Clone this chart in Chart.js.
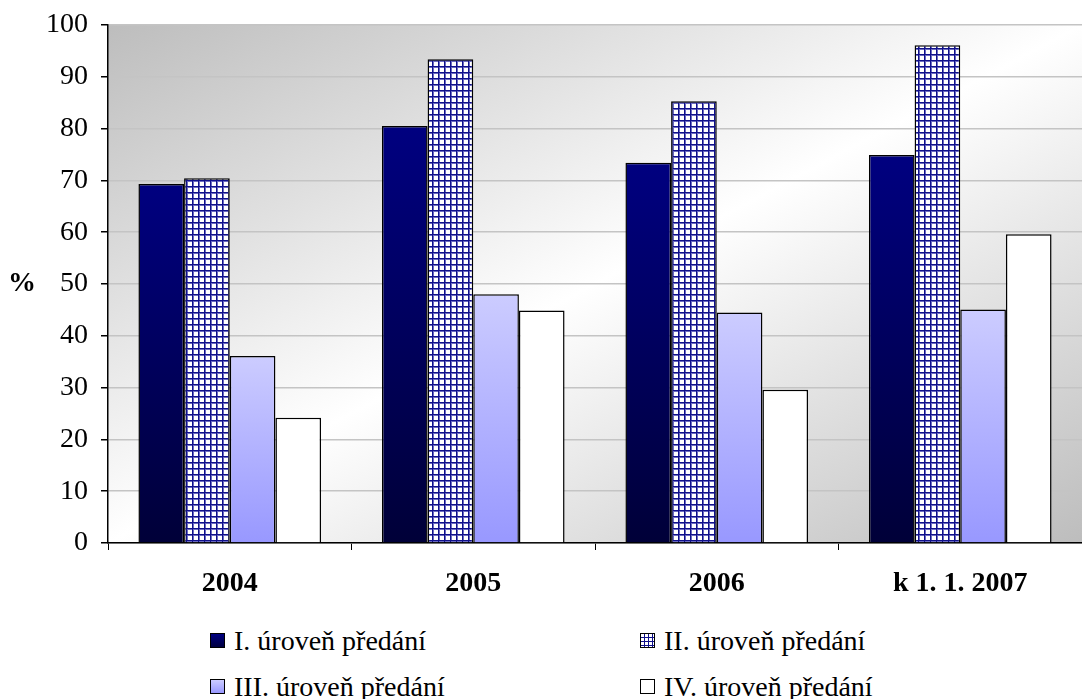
<!DOCTYPE html>
<html>
<head>
<meta charset="utf-8">
<script src="https://cdn.jsdelivr.net/npm/chart.js@4.4.1/dist/chart.umd.min.js"></script>
<style>
    body { margin: 0; background: #fff; width: 1082px; height: 699px; overflow: hidden;
           font-family: "Liberation Serif", "Times New Roman", serif; }
    #wrap { position: absolute; left: 0; top: 0; width: 1082px; height: 611px; }
    #legend { position: absolute; left: 210px; top: 625px; display: grid;
              grid-template-columns: 430px 300px; row-gap: 15px;
              font-size: 28px; line-height: 31px; color: #000; }
    .item { display: flex; align-items: center; white-space: nowrap; }
    .sw { width: 13px; height: 13px; border: 1px solid #000; margin-right: 9px; box-sizing: content-box; }
</style>
</head>
<body>
<div id="wrap"><canvas id="levelsChart"></canvas></div>
<div id="legend"></div>
<script>
// Data
const years = ['2004', '2005', '2006', 'k 1. 1. 2007'];
const levelNames = ['I. úroveň předání', 'II. úroveň předání', 'III. úroveň předání', 'IV. úroveň předání'];
const level1 = [69.3, 80.5, 73.4, 74.9];
const level2 = [70.4, 93.4, 85.3, 96.1];
const level3 = [36.1, 48.0, 44.5, 45.1];
const level4 = [24.2, 44.9, 29.6, 59.6];
const yMin = 0;
const yMax = 100;
const yStep = 10;
const axisUnit = '%';

const FONT = '"Liberation Serif", "Times New Roman", serif';

// Checkered fill used by level II
function makeGridPattern() {
    const c = document.createElement('canvas');
    c.width = 6;
    c.height = 6;
    const p = c.getContext('2d');
    p.fillStyle = '#ffffff';
    p.fillRect(0, 0, 6, 6);
    p.fillStyle = '#6a6ac0';
    p.fillRect(0, 0, 6, 2);
    p.fillRect(0, 0, 2, 6);
    p.fillStyle = '#10108a';
    p.fillRect(0, 0, 6, 1);
    p.fillRect(0, 0, 1, 6);
    return p.createPattern(c, 'repeat');
}

// Vertical gradient spanning one bar, from its top to the zero line
function barGradient(topColor, bottomColor) {
    return function(context) {
        const chart = context.chart;
        const y = chart.scales.y;
        if (!y || context.raw == null) return bottomColor;
        const top = y.getPixelForValue(context.raw);
        const base = y.getPixelForValue(0);
        if (!isFinite(top) || !isFinite(base) || top === base) return bottomColor;
        const g = chart.ctx.createLinearGradient(0, top, 0, base);
        g.addColorStop(0, topColor);
        g.addColorStop(1, bottomColor);
        return g;
    };
}

// Grey-white-grey diagonal background of the plot area
const plotBackground = {
    id: 'plotBackground',
    beforeDraw(chart) {
        const a = chart.chartArea;
        const ctx = chart.ctx;
        ctx.save();
        ctx.translate(a.left, a.top);
        ctx.scale(a.right - a.left, a.bottom - a.top);
        const g = ctx.createLinearGradient(0, 0, 1, 1);
        g.addColorStop(0, '#bdbdbd');
        g.addColorStop(0.5, '#ffffff');
        g.addColorStop(1, '#bdbdbd');
        ctx.fillStyle = g;
        ctx.fillRect(0, 0, 1, 1);
        ctx.restore();
    }
};

// Horizontal "%" label left of the y axis
const unitLabel = {
    id: 'unitLabel',
    afterDraw(chart) {
        const a = chart.chartArea;
        const ctx = chart.ctx;
        ctx.save();
        ctx.font = 'bold 28px ' + FONT;
        ctx.fillStyle = '#000';
        ctx.textAlign = 'center';
        ctx.textBaseline = 'middle';
        ctx.fillText(axisUnit, 22, (a.top + a.bottom) / 2);
        ctx.restore();
    }
};

const gridPattern = makeGridPattern();

const fills = [
    barGradient('#000080', '#000038'),
    gridPattern,
    barGradient('#ccccff', '#9898ff'),
    '#ffffff'
];
const series = [level1, level2, level3, level4];

const datasets = series.map((values, i) => ({
    label: levelNames[i],
    data: values,
    backgroundColor: fills[i],
    borderColor: '#000000',
    borderWidth: 1.5,
    categoryPercentage: 0.75,
    barPercentage: 1.0
}));

const ctx = document.getElementById('levelsChart').getContext('2d');
const levelsChart = new Chart(ctx, {
    type: 'bar',
    data: { labels: years, datasets: datasets },
    options: {
        responsive: true,
        maintainAspectRatio: false,
        animation: false,
        layout: { padding: { top: 25, right: 0, bottom: 0, left: 0 } },
        plugins: {
            legend: { display: false },
            tooltip: { enabled: false }
        },
        scales: {
            x: {
                afterFit: function(s) { s.height = 68; s.paddingLeft = 0; s.paddingRight = 0; },
                grid: {
                    display: true,
                    offset: true,
                    drawOnChartArea: false,
                    drawTicks: true,
                    tickLength: 7,
                    tickColor: '#000000'
                },
                border: { display: true, color: '#000000', width: 1.5 },
                ticks: {
                    color: '#000000',
                    padding: 17,
                    maxRotation: 0,
                    font: { family: FONT, size: 28, weight: 'bold' }
                }
            },
            y: {
                min: yMin,
                max: yMax,
                afterFit: function(s) { s.width = 108; s.paddingTop = 0; s.paddingBottom = 0; },
                grid: {
                    color: '#c4c4c4',
                    lineWidth: 1.5,
                    tickLength: 7,
                    tickColor: '#000000'
                },
                border: { display: true, color: '#000000', width: 1.5 },
                ticks: {
                    stepSize: yStep,
                    color: '#000000',
                    padding: 13,
                    font: { family: FONT, size: 28 }
                }
            }
        }
    },
    plugins: [plotBackground, unitLabel]
});

// Two-column legend below the chart
const swatchStyles = [
    'background: linear-gradient(#000080, #000040);',
    'background-color: #fff; background-image: linear-gradient(#10108a 1.5px, transparent 1.5px), linear-gradient(90deg, #10108a 1.5px, transparent 1.5px); background-size: 4px 4px; background-position: -1px -1px;',
    'background: linear-gradient(#ccccff, #9898ff);',
    'background: #fff;'
];
const legendEl = document.getElementById('legend');
levelNames.forEach((name, i) => {
    const item = document.createElement('div');
    item.className = 'item';
    const sw = document.createElement('span');
    sw.className = 'sw';
    sw.style.cssText = swatchStyles[i];
    const txt = document.createElement('span');
    txt.textContent = name;
    item.appendChild(sw);
    item.appendChild(txt);
    legendEl.appendChild(item);
});
</script>
</body>
</html>
